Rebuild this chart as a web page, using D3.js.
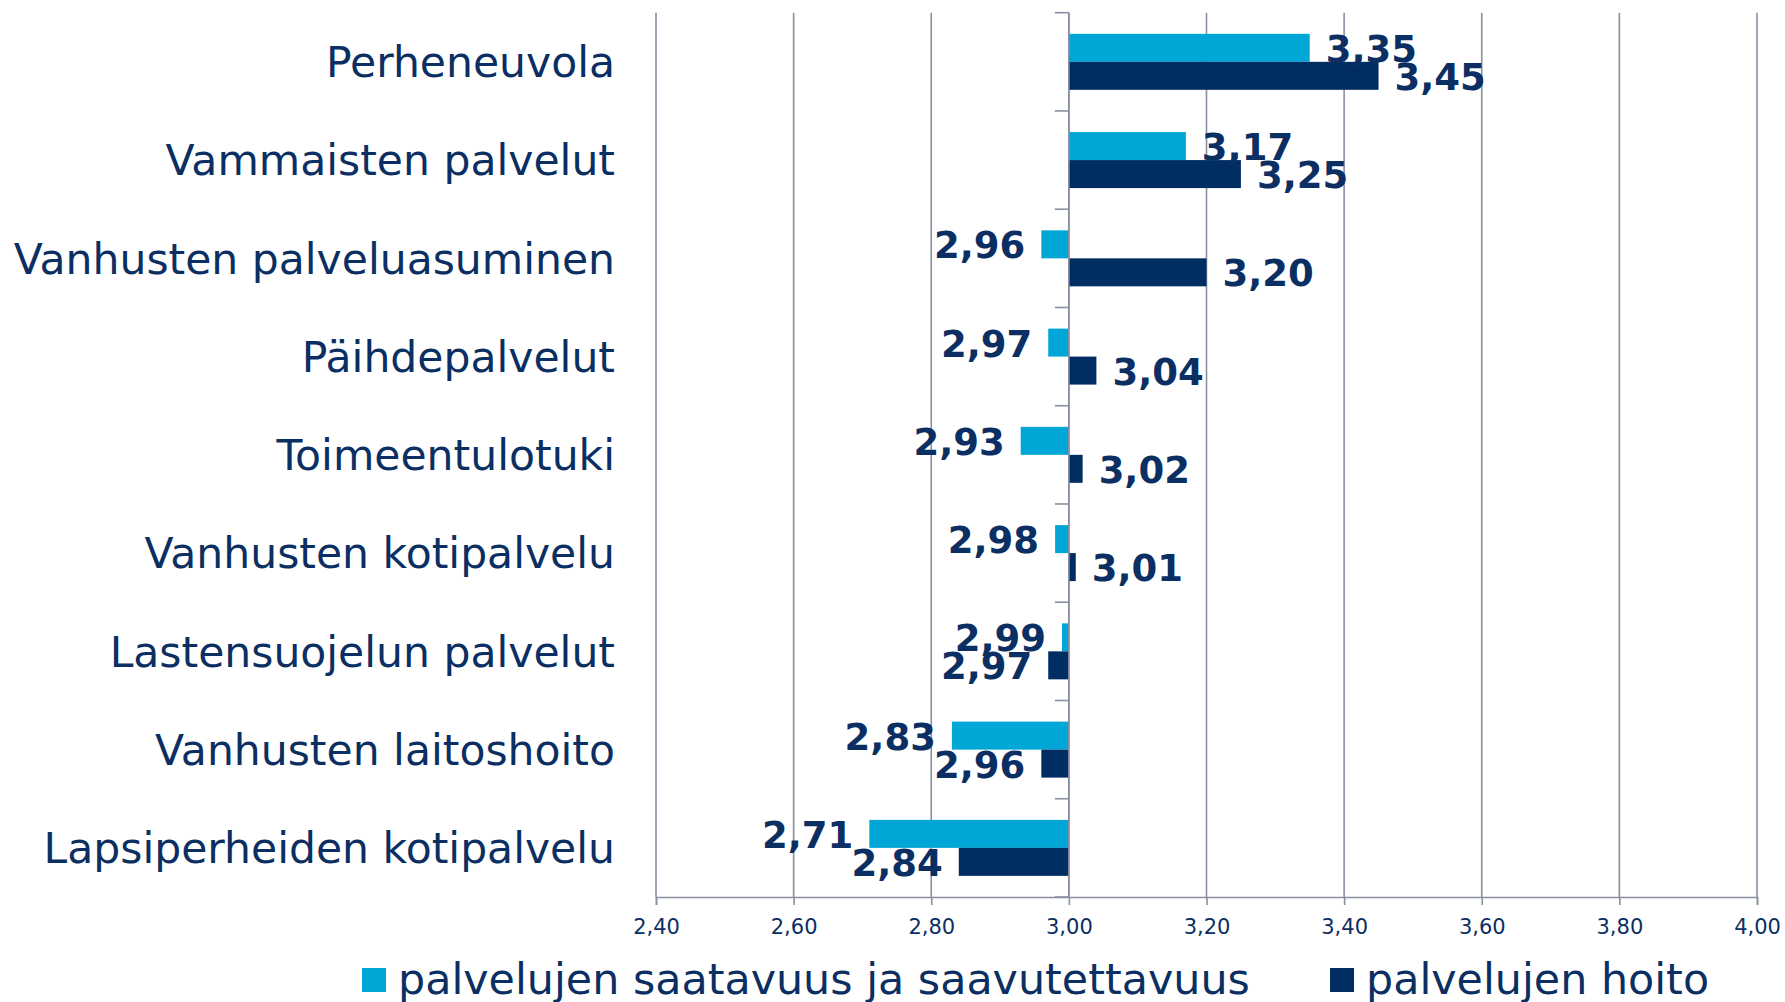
<!DOCTYPE html>
<html>
<head>
<meta charset="utf-8">
<script src="https://cdn.jsdelivr.net/npm/d3@7"></script>
<style>
  body { margin: 0; background: #fff; }
  svg { display: block; font-family: "DejaVu Sans", Verdana, sans-serif; }
</style>
</head>
<body>
<div id="vis"></div>
<script>
// Data
var categories = ["Perheneuvola", "Vammaisten palvelut", "Vanhusten palveluasuminen",
  "Päihdepalvelut", "Toimeentulotuki", "Vanhusten kotipalvelu",
  "Lastensuojelun palvelut", "Vanhusten laitoshoito", "Lapsiperheiden kotipalvelu"]
var seriesNames = ["palvelujen saatavuus ja saavutettavuus", "palvelujen hoito"]
var saatavuus = [3.35, 3.17, 2.96, 2.97, 2.93, 2.98, 2.99, 2.83, 2.71]
var hoito = [3.45, 3.25, 3.20, 3.04, 3.02, 3.01, 2.97, 2.96, 2.84]
var xTicks = [2.4, 2.6, 2.8, 3.0, 3.2, 3.4, 3.6, 3.8, 4.0]
var baseValue = 3.0

var colors = ["#00a6d6", "#002d62"]
var textColor = "#0b2f62"
var gridColor = "#8b8fa2"

//measurements
var width = 1785, height = 1002
var plotLeft = 656, plotRight = 1757, plotTop = 12.7, plotBottom = 897

var data = categories.map((c, i) => ({cat: c, values: [saatavuus[i], hoito[i]]}))

var fmt = d => d3.format(".2f")(d).replace(".", ",")

//scales
var x = d3.scaleLinear()
  .domain([2.4, 4.0])
  .range([plotLeft, plotRight])

var y0 = d3.scaleBand()
  .domain(categories)
  .range([plotTop, plotBottom])

var y1 = d3.scaleBand()
  .domain([0, 1])
  .range([0, y0.bandwidth()])
  .paddingOuter(0.755)

var chart = d3.select("#vis")
  .append("svg")
  .attr("width", width)
  .attr("height", height)

// vertical gridlines
chart.append("g")
  .selectAll("line")
  .data(xTicks)
  .enter()
  .append("line")
  .attr("x1", d => x(d))
  .attr("x2", d => x(d))
  .attr("y1", plotTop)
  .attr("y2", plotBottom)
  .style("stroke", gridColor)
  .style("stroke-width", "1.6px")

// x axis at bottom
var xAxis = chart.append("g")
  .attr("transform", `translate(0,${plotBottom})`)
  .call(d3.axisBottom(x).tickValues(xTicks).tickFormat(fmt).tickSize(8).tickPadding(14))
xAxis.select(".domain").style("stroke", gridColor).style("stroke-width", "1.6px")
xAxis.selectAll(".tick line").style("stroke", gridColor).style("stroke-width", "1.6px")
xAxis.selectAll(".tick text")
  .style("font-size", "21px")
  .style("fill", textColor)
  .style("font-family", "DejaVu Sans")

// bars
var groups = chart.append("g")
  .selectAll("g")
  .data(data)
  .enter()
  .append("g")
  .attr("transform", d => `translate(0,${y0(d.cat)})`)

groups.selectAll("rect")
  .data(d => d.values.map((v, i) => ({v: v, i: i})))
  .enter()
  .append("rect")
  .attr("x", d => x(Math.min(d.v, baseValue)))
  .attr("y", d => y1(d.i))
  .attr("width", d => Math.abs(x(d.v) - x(baseValue)))
  .attr("height", y1.bandwidth())
  .style("fill", d => colors[d.i])

// value labels
groups.selectAll("text")
  .data(d => d.values.map((v, i) => ({v: v, i: i})))
  .enter()
  .append("text")
  .attr("x", d => d.v >= baseValue ? x(d.v) + 16 : x(d.v) - 16)
  .attr("y", d => y1(d.i) + y1.bandwidth() / 2)
  .attr("dy", "0.38em")
  .style("text-anchor", d => d.v >= baseValue ? "start" : "end")
  .style("font-size", "37px")
  .style("font-weight", "bold")
  .style("fill", textColor)
  .text(d => fmt(d.v))

// category axis at 3,00
var yAxis = chart.append("g")
  .attr("transform", `translate(${x(baseValue)},0)`)
yAxis.append("line")
  .attr("y1", plotTop)
  .attr("y2", plotBottom)
  .style("stroke", gridColor)
  .style("stroke-width", "1.6px")
yAxis.selectAll("line.tick")
  .data(categories.map(c => y0(c)).concat([plotBottom]))
  .enter()
  .append("line")
  .attr("class", "tick")
  .attr("x1", -14)
  .attr("x2", 0)
  .attr("y1", d => d)
  .attr("y2", d => d)
  .style("stroke", gridColor)
  .style("stroke-width", "1.6px")

// category labels
chart.append("g")
  .selectAll("text")
  .data(categories)
  .enter()
  .append("text")
  .attr("x", 615)
  .attr("y", d => y0(d) + y0.bandwidth() / 2)
  .attr("dy", "0.36em")
  .style("text-anchor", "end")
  .style("font-size", "42.5px")
  .style("fill", textColor)
  .text(d => d)

// legend
var legendX = [362, 1330]
var legend = chart.append("g")
  .selectAll("g")
  .data(seriesNames)
  .enter()
  .append("g")
  .attr("transform", (d, i) => `translate(${legendX[i]},980)`)

legend.append("rect")
  .attr("x", 0)
  .attr("y", -12)
  .attr("width", 24)
  .attr("height", 24)
  .style("fill", (d, i) => colors[i])

legend.append("text")
  .attr("x", 36)
  .attr("y", 14)
  .style("font-size", "42.8px")
  .style("fill", textColor)
  .text(d => d)
</script>
</body>
</html>
